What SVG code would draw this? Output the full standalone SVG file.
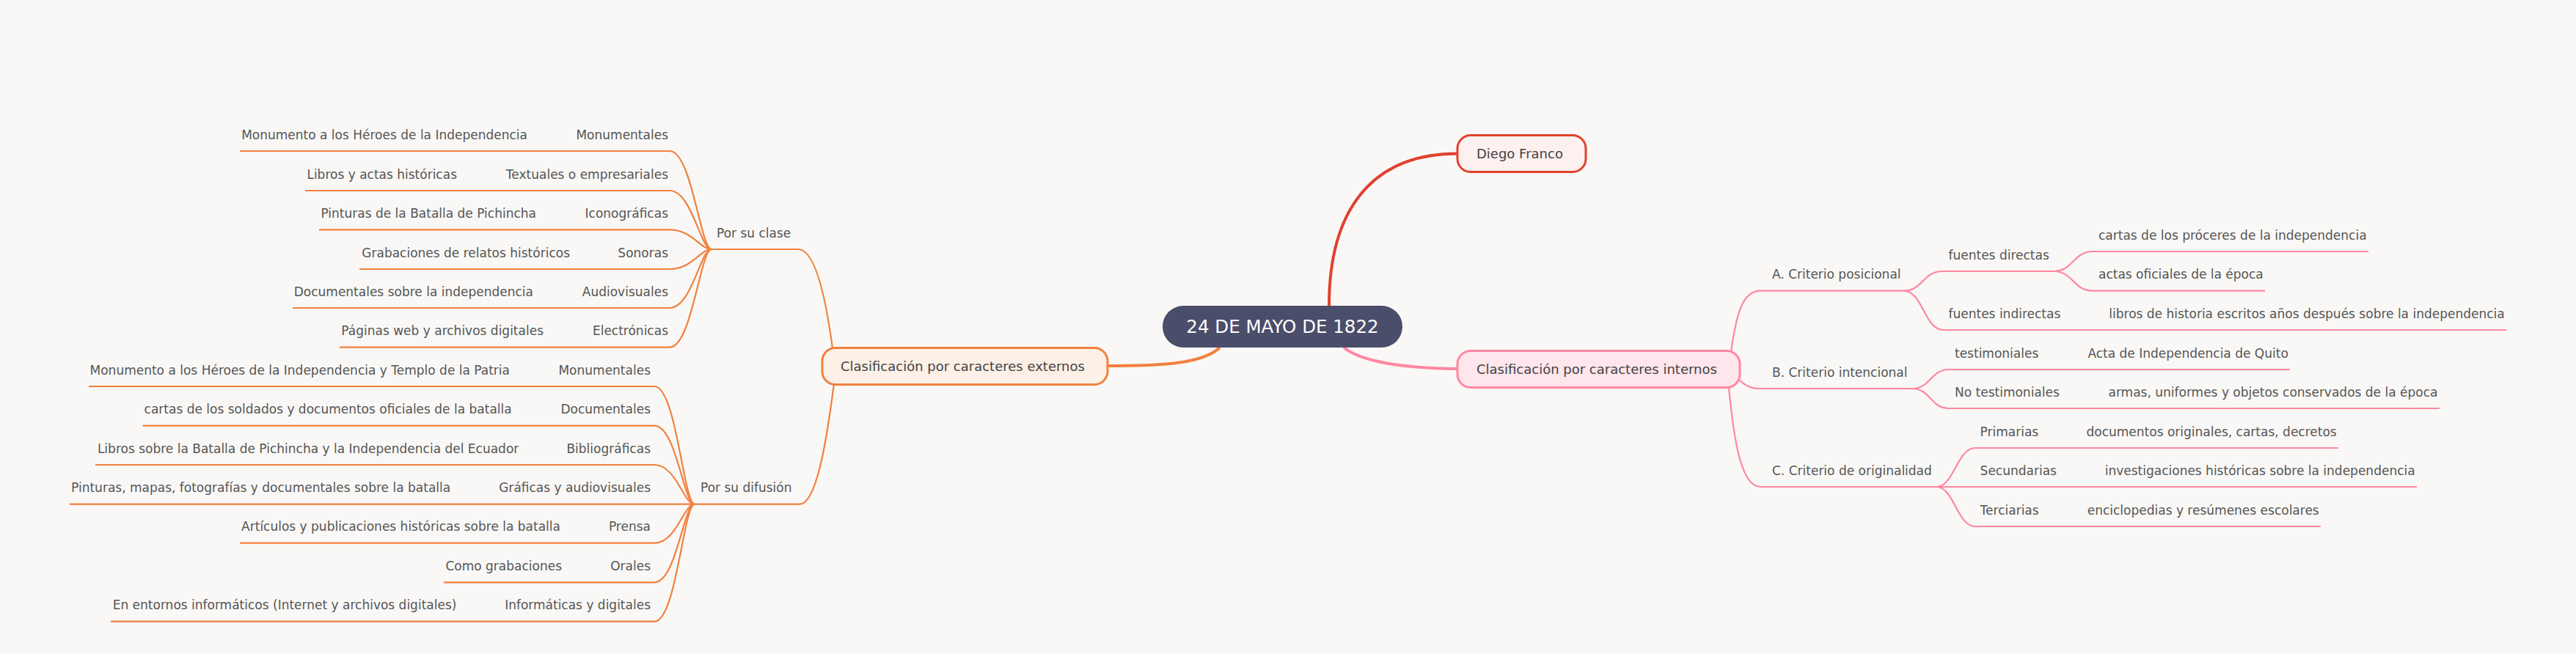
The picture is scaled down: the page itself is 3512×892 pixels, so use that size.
<svg xmlns="http://www.w3.org/2000/svg" width="3512" height="892" viewBox="0 0 3512 892">
<style>
text{font-family:"DejaVu Sans","Noto Sans",sans-serif}
.lf{font-size:17px;fill:#555555}
.l1{font-size:18px;fill:#434343}
.root{font-size:24.5px;fill:#ffffff}
.e{text-anchor:end}
.o{stroke:#F2803F;stroke-width:2.2;fill:none}
.p{stroke:#FF87A1;stroke-width:2.2;fill:none}
.r{stroke:#E2412F;fill:none}
</style>
<rect x="0" y="0" width="3512" height="892" fill="#F9F8F6"/>

<g id="connectors">
  <path d="M1812,417 C1812,289 1868,209.5 1987,209.5" stroke="#E2412F" stroke-width="4" fill="none"/>
  <path d="M1663,474 C1640,496 1585,499 1510,499" stroke="#F2803F" stroke-width="4" fill="none"/>
  <path d="M1832,474 C1852,490 1900,502 1987,503" stroke="#FF87A1" stroke-width="4" fill="none"/>
  <!-- externos to subgroups -->
  <path class="o" d="M1088,340 C1110,340 1125,400 1135,475"/>
  <path class="o" d="M1090,687.7 C1112,687.7 1126,610 1137,523"/>
  <!-- por su clase leaves -->
  <path class="o" d="M913,206 C943,206 955,340 970,340"/>
  <path class="o" d="M913,260 C943,260 955,340 970,340"/>
  <path class="o" d="M913,313.3 C943,313.3 955,340 970,340"/>
  <path class="o" d="M913,367 C943,367 955,340 970,340"/>
  <path class="o" d="M913,420 C943,420 955,340 970,340"/>
  <path class="o" d="M913,473.7 C943,473.7 955,340 970,340"/>
  <!-- por su difusion leaves -->
  <path class="o" d="M892,527 C922,527 932,687.7 947,687.7"/>
  <path class="o" d="M892,580.7 C922,580.7 932,687.7 947,687.7"/>
  <path class="o" d="M892,634 C922,634 932,687.7 947,687.7"/>
  <path class="o" d="M892,740.7 C922,740.7 932,687.7 947,687.7"/>
  <path class="o" d="M892,794.3 C922,794.3 932,687.7 947,687.7"/>
  <path class="o" d="M892,847.7 C922,847.7 932,687.7 947,687.7"/>
  <!-- internos to criteria -->
  <path class="p" d="M2360,480 C2367,430 2375,396.7 2400,396.7"/>
  <path class="p" d="M2370,516.7 C2380,527 2388,530 2400,530"/>
  <path class="p" d="M2357,528.3 C2363,590 2372,664 2400,664"/>
  <!-- A -->
  <path class="p" d="M2595,396.7 C2621,396.7 2622,370 2648,370"/>
  <path class="p" d="M2595,396.7 C2622,396.7 2623,450 2650,450"/>
  <path class="p" d="M2800,370 C2826,370 2827,343 2853,343"/>
  <path class="p" d="M2800,370 C2826,370 2827,396.7 2853,396.7"/>
  <!-- B -->
  <path class="p" d="M2607,530 C2632,530 2632,504 2657,504"/>
  <path class="p" d="M2607,530 C2632,530 2632,557 2657,557"/>
  <!-- C -->
  <path class="p" d="M2640,664 C2664,664 2668,611 2693,611"/>
  <path class="p" d="M2640,664 C2664,664 2668,718 2693,718"/>
</g>

<g id="root">
  <rect x="1585" y="417" width="327" height="57" rx="28.5" fill="#4B4E6A"/>
  <text class="root" x="1748.5" y="454" text-anchor="middle">24 DE MAYO DE 1822</text>
</g>

<g id="diego-franco">
  <rect x="1987" y="184.5" width="175" height="50" rx="18" fill="#FDF1EF" stroke="#E2412F" stroke-width="3"/>
  <text class="l1" x="2013" y="216">Diego Franco</text>
</g>

<g id="externos">
  <rect x="1121" y="474.5" width="389" height="50" rx="18" fill="#FDF0E7" stroke="#F2803F" stroke-width="3"/>
  <text class="l1" x="1146" y="506">Clasificación por caracteres externos</text>
</g>

<g id="internos">
  <rect x="1987" y="478.5" width="385" height="50" rx="18" fill="#FFE5EC" stroke="#FF87A1" stroke-width="3"/>
  <text class="l1" x="2013" y="510">Clasificación por caracteres internos</text>
</g>

<!-- Por su clase -->
<g id="por-su-clase">
  <line class="o" x1="970" y1="340" x2="1088" y2="340"/>
  <text class="lf" x="977" y="323.5">Por su clase</text>
</g>
<g id="clase-monumentales">
  <line class="o" x1="753" y1="206" x2="913" y2="206"/>
  <text class="lf e" x="911" y="189.5">Monumentales</text>
</g>
<g id="clase-monumento">
  <line class="o" x1="327" y1="206" x2="753" y2="206"/>
  <text class="lf e" x="719" y="189.5">Monumento a los Héroes de la Independencia</text>
</g>
<g id="clase-textuales">
  <line class="o" x1="657" y1="260" x2="913" y2="260"/>
  <text class="lf e" x="911" y="243.5">Textuales o empresariales</text>
</g>
<g id="clase-libros">
  <line class="o" x1="416" y1="260" x2="657" y2="260"/>
  <text class="lf e" x="623" y="243.5">Libros y actas históricas</text>
</g>
<g id="clase-iconograficas">
  <line class="o" x1="765" y1="313.3" x2="913" y2="313.3"/>
  <text class="lf e" x="911" y="296.8">Iconográficas</text>
</g>
<g id="clase-pinturas">
  <line class="o" x1="435" y1="313.3" x2="765" y2="313.3"/>
  <text class="lf e" x="731" y="296.8">Pinturas de la Batalla de Pichincha</text>
</g>
<g id="clase-sonoras">
  <line class="o" x1="811" y1="367" x2="913" y2="367"/>
  <text class="lf e" x="911" y="350.5">Sonoras</text>
</g>
<g id="clase-grabaciones">
  <line class="o" x1="490" y1="367" x2="811" y2="367"/>
  <text class="lf e" x="777" y="350.5">Grabaciones de relatos históricos</text>
</g>
<g id="clase-audiovisuales">
  <line class="o" x1="761" y1="420" x2="913" y2="420"/>
  <text class="lf e" x="911" y="403.5">Audiovisuales</text>
</g>
<g id="clase-documentales">
  <line class="o" x1="399" y1="420" x2="761" y2="420"/>
  <text class="lf e" x="727" y="403.5">Documentales sobre la independencia</text>
</g>
<g id="clase-electronicas">
  <line class="o" x1="775" y1="473.7" x2="913" y2="473.7"/>
  <text class="lf e" x="911" y="457.2">Electrónicas</text>
</g>
<g id="clase-paginas">
  <line class="o" x1="463" y1="473.7" x2="775" y2="473.7"/>
  <text class="lf e" x="741" y="457.2">Páginas web y archivos digitales</text>
</g>

<!-- Por su difusión -->
<g id="por-su-difusion">
  <line class="o" x1="947" y1="687.7" x2="1090" y2="687.7"/>
  <text class="lf" x="955" y="671.2">Por su difusión</text>
</g>
<g id="dif-monumentales">
  <line class="o" x1="729" y1="527" x2="892" y2="527"/>
  <text class="lf e" x="887" y="510.5">Monumentales</text>
</g>
<g id="dif-monumento">
  <line class="o" x1="121" y1="527" x2="729" y2="527"/>
  <text class="lf e" x="695" y="510.5">Monumento a los Héroes de la Independencia y Templo de la Patria</text>
</g>
<g id="dif-documentales">
  <line class="o" x1="731" y1="580.7" x2="892" y2="580.7"/>
  <text class="lf e" x="887" y="564.2">Documentales</text>
</g>
<g id="dif-cartas">
  <line class="o" x1="194.5" y1="580.7" x2="731" y2="580.7"/>
  <text class="lf e" x="697.7" y="564.2">cartas de los soldados y documentos oficiales de la batalla</text>
</g>
<g id="dif-bibliograficas">
  <line class="o" x1="741" y1="634" x2="892" y2="634"/>
  <text class="lf e" x="887" y="617.5">Bibliográficas</text>
</g>
<g id="dif-libros">
  <line class="o" x1="130" y1="634" x2="741" y2="634"/>
  <text class="lf e" x="707.3" y="617.5">Libros sobre la Batalla de Pichincha y la Independencia del Ecuador</text>
</g>
<g id="dif-graficas">
  <line class="o" x1="648" y1="687.7" x2="947" y2="687.7"/>
  <text class="lf e" x="887" y="671.2">Gráficas y audiovisuales</text>
</g>
<g id="dif-pinturas">
  <line class="o" x1="95" y1="687.7" x2="648" y2="687.7"/>
  <text class="lf e" x="614.2" y="671.2">Pinturas, mapas, fotografías y documentales sobre la batalla</text>
</g>
<g id="dif-prensa">
  <line class="o" x1="798" y1="740.7" x2="892" y2="740.7"/>
  <text class="lf e" x="887" y="724.2">Prensa</text>
</g>
<g id="dif-articulos">
  <line class="o" x1="327" y1="740.7" x2="798" y2="740.7"/>
  <text class="lf e" x="764" y="724.2">Artículos y publicaciones históricas sobre la batalla</text>
</g>
<g id="dif-orales">
  <line class="o" x1="800" y1="794.3" x2="892" y2="794.3"/>
  <text class="lf e" x="887" y="777.8">Orales</text>
</g>
<g id="dif-grabaciones">
  <line class="o" x1="605" y1="794.3" x2="800" y2="794.3"/>
  <text class="lf e" x="766" y="777.8">Como grabaciones</text>
</g>
<g id="dif-informaticas">
  <line class="o" x1="656" y1="847.7" x2="892" y2="847.7"/>
  <text class="lf e" x="887" y="831.2">Informáticas y digitales</text>
</g>
<g id="dif-entornos">
  <line class="o" x1="151" y1="847.7" x2="656" y2="847.7"/>
  <text class="lf e" x="622.4" y="831.2">En entornos informáticos (Internet y archivos digitales)</text>
</g>

<!-- Internos side -->
<g id="criterio-a">
  <line class="p" x1="2400" y1="396.7" x2="2595" y2="396.7"/>
  <text class="lf" x="2416" y="380.2">A. Criterio posicional</text>
</g>
<g id="fuentes-directas">
  <line class="p" x1="2648" y1="370" x2="2800" y2="370"/>
  <text class="lf" x="2656.5" y="353.5">fuentes directas</text>
</g>
<g id="cartas-proceres">
  <line class="p" x1="2853" y1="343" x2="3229" y2="343"/>
  <text class="lf" x="2861" y="326.5">cartas de los próceres de la independencia</text>
</g>
<g id="actas-oficiales">
  <line class="p" x1="2853" y1="396.7" x2="3088" y2="396.7"/>
  <text class="lf" x="2861" y="380.2">actas oficiales de la época</text>
</g>
<g id="fuentes-indirectas">
  <line class="p" x1="2650" y1="450" x2="2842" y2="450"/>
  <text class="lf" x="2656.5" y="433.5">fuentes indirectas</text>
</g>
<g id="libros-historia">
  <line class="p" x1="2842" y1="450" x2="3417" y2="450"/>
  <text class="lf" x="2875.3" y="433.5">libros de historia escritos años después sobre la independencia</text>
</g>
<g id="criterio-b">
  <line class="p" x1="2400" y1="530" x2="2607" y2="530"/>
  <text class="lf" x="2416" y="513.5">B. Criterio intencional</text>
</g>
<g id="testimoniales">
  <line class="p" x1="2657" y1="504" x2="2813" y2="504"/>
  <text class="lf" x="2665" y="487.5">testimoniales</text>
</g>
<g id="acta-independencia">
  <line class="p" x1="2813" y1="504" x2="3122" y2="504"/>
  <text class="lf" x="2846.4" y="487.5">Acta de Independencia de Quito</text>
</g>
<g id="no-testimoniales">
  <line class="p" x1="2657" y1="557" x2="2841" y2="557"/>
  <text class="lf" x="2665" y="540.5">No testimoniales</text>
</g>
<g id="armas">
  <line class="p" x1="2841" y1="557" x2="3326" y2="557"/>
  <text class="lf" x="2874.5" y="540.5">armas, uniformes y objetos conservados de la época</text>
</g>
<g id="criterio-c">
  <line class="p" x1="2400" y1="664" x2="2640" y2="664"/>
  <text class="lf" x="2416" y="647.5">C. Criterio de originalidad</text>
</g>
<g id="primarias">
  <line class="p" x1="2693" y1="611" x2="2811" y2="611"/>
  <text class="lf" x="2699.6" y="594.5">Primarias</text>
</g>
<g id="documentos-originales">
  <line class="p" x1="2811" y1="611" x2="3188" y2="611"/>
  <text class="lf" x="2844.5" y="594.5">documentos originales, cartas, decretos</text>
</g>
<g id="secundarias">
  <line class="p" x1="2640" y1="664" x2="2836" y2="664"/>
  <text class="lf" x="2699.6" y="647.5">Secundarias</text>
</g>
<g id="investigaciones">
  <line class="p" x1="2836" y1="664" x2="3295" y2="664"/>
  <text class="lf" x="2869.7" y="647.5">investigaciones históricas sobre la independencia</text>
</g>
<g id="terciarias">
  <line class="p" x1="2693" y1="718" x2="2812" y2="718"/>
  <text class="lf" x="2699.6" y="701.5">Terciarias</text>
</g>
<g id="enciclopedias">
  <line class="p" x1="2812" y1="718" x2="3164" y2="718"/>
  <text class="lf" x="2845.7" y="701.5">enciclopedias y resúmenes escolares</text>
</g>
</svg>
